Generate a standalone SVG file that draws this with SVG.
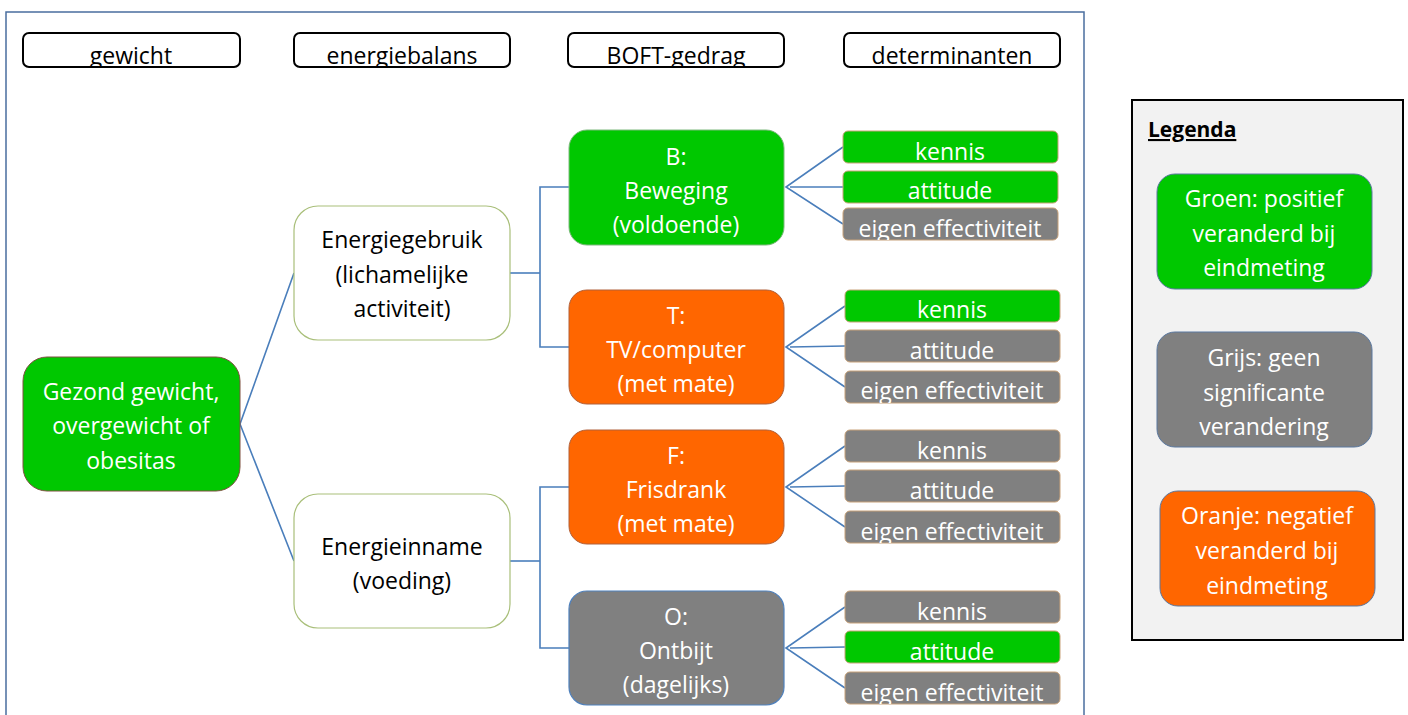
<svg xmlns="http://www.w3.org/2000/svg" width="1408" height="715" viewBox="0 0 1408 715">
<style>
text{font-family:"Open Sans","Noto Sans",sans-serif;font-size:23px;text-anchor:middle}
.w{fill:#ffffff}
.k{fill:#000000}
.hdr{fill:#ffffff;stroke:#000000;stroke-width:2}
.green{fill:#00C800}
.orange{fill:#FF6600}
.gray{fill:#808080}
.det{stroke:#C8A27A;stroke-width:1}
.big{stroke:#7F5040;stroke-width:1}
.en{fill:#ffffff;stroke:#A9BF7A;stroke-width:1.2}
.leg{stroke:#5A78A0;stroke-width:1}
.con{fill:none;stroke:#4A7EBB;stroke-width:1.6}
</style>
<defs>
<clipPath id="ch1"><rect x="23" y="33" width="217" height="33"/></clipPath>
<clipPath id="ch2"><rect x="294" y="33" width="216" height="33"/></clipPath>
<clipPath id="ch3"><rect x="568" y="33" width="216" height="33"/></clipPath>
<clipPath id="ch4"><rect x="844" y="33" width="216" height="33"/></clipPath>
</defs>
<rect width="1408" height="715" fill="#ffffff"/>
<rect id="frame" x="6" y="12" width="1078" height="720" fill="none" stroke="#4A6E9E" stroke-width="1.5"/>

<g id="headers">
<g id="h-gewicht"><rect class="hdr" x="23" y="33" width="217" height="34" rx="6"/><text class="k" x="131" y="64" clip-path="url(#ch1)">gewicht</text></g>
<g id="h-energiebalans"><rect class="hdr" x="294" y="33" width="216" height="34" rx="6"/><text class="k" x="402" y="64" clip-path="url(#ch2)">energiebalans</text></g>
<g id="h-boft"><rect class="hdr" x="568" y="33" width="216" height="34" rx="6"/><text class="k" x="676" y="64" clip-path="url(#ch3)">BOFT-gedrag</text></g>
<g id="h-determinanten"><rect class="hdr" x="844" y="33" width="216" height="34" rx="6"/><text class="k" x="952" y="64" clip-path="url(#ch4)">determinanten</text></g>
</g>

<g id="connectors">
<polyline class="con" points="294,273 240,424 294,561"/>
<polyline class="con" points="510,273 540,273"/>
<polyline class="con" points="569,187 540,187 540,347 569,347"/>
<polyline class="con" points="510,561 540,561"/>
<polyline class="con" points="569,487 540,487 540,648 569,648"/>
<polyline class="con" points="843,147 786,187 843,224"/>
<line class="con" x1="790" y1="187" x2="843" y2="187"/>
<polyline class="con" points="845,306 786,347 845,387"/>
<line class="con" x1="790" y1="347" x2="845" y2="346"/>
<polyline class="con" points="845,446 786,487 845,527"/>
<line class="con" x1="790" y1="487" x2="845" y2="486"/>
<polyline class="con" points="845,607 786,648 845,688"/>
<line class="con" x1="790" y1="648" x2="845" y2="647"/>
</g>

<g id="node-gewicht">
<rect class="green big" x="23" y="357" width="217" height="134" rx="24"/>
<text class="w" x="131" y="400">Gezond gewicht,</text>
<text class="w" x="131" y="434">overgewicht of</text>
<text class="w" x="131" y="469">obesitas</text>
</g>

<g id="node-energiegebruik">
<rect class="en" x="294" y="206" width="216" height="134" rx="24"/>
<text class="k" x="402" y="248">Energiegebruik</text>
<text class="k" x="402" y="283">(lichamelijke</text>
<text class="k" x="402" y="317">activiteit)</text>
</g>

<g id="node-energieinname">
<rect class="en" x="294" y="494" width="216" height="134" rx="24"/>
<text class="k" x="402" y="555">Energieinname</text>
<text class="k" x="402" y="589">(voeding)</text>
</g>

<g id="node-B">
<rect class="green" x="569" y="130" width="215" height="115" rx="18" stroke="#7CB87C" stroke-width="1"/>
<text class="w" x="676" y="165">B:</text>
<text class="w" x="676" y="199">Beweging</text>
<text class="w" x="676" y="233">(voldoende)</text>
</g>

<g id="node-T">
<rect class="orange" x="569" y="290" width="215" height="114" rx="18" stroke="#B0603A" stroke-width="1"/>
<text class="w" x="676" y="324">T:</text>
<text class="w" x="676" y="358">TV/computer</text>
<text class="w" x="676" y="392">(met mate)</text>
</g>

<g id="node-F">
<rect class="orange" x="569" y="430" width="215" height="114" rx="18" stroke="#B0603A" stroke-width="1"/>
<text class="w" x="676" y="464">F:</text>
<text class="w" x="676" y="498">Frisdrank</text>
<text class="w" x="676" y="532">(met mate)</text>
</g>

<g id="node-O">
<rect class="gray" x="569" y="591" width="215" height="114" rx="18" stroke="#4F81BD" stroke-width="1.2"/>
<text class="w" x="676" y="625">O:</text>
<text class="w" x="676" y="659">Ontbijt</text>
<text class="w" x="676" y="693">(dagelijks)</text>
</g>

<defs>
<clipPath id="cd1"><rect x="843" y="208" width="215" height="32"/></clipPath>
<clipPath id="cd2"><rect x="845" y="371" width="215" height="32"/></clipPath>
<clipPath id="cd3"><rect x="845" y="511" width="215" height="32"/></clipPath>
<clipPath id="cd4"><rect x="845" y="672" width="215" height="32"/></clipPath>
</defs>

<g id="det-B">
<g id="det-B-kennis"><rect class="green det" x="843" y="131" width="215" height="32" rx="5"/><text class="w" x="950" y="160">kennis</text></g>
<g id="det-B-attitude"><rect class="green det" x="843" y="171" width="215" height="32" rx="5"/><text class="w" x="950" y="199">attitude</text></g>
<g id="det-B-eigen"><rect class="gray det" x="843" y="208" width="215" height="32" rx="5"/><text class="w" x="950" y="237" clip-path="url(#cd1)">eigen effectiviteit</text></g>
</g>

<g id="det-T">
<g id="det-T-kennis"><rect class="green det" x="845" y="290" width="215" height="32" rx="5"/><text class="w" x="952" y="318">kennis</text></g>
<g id="det-T-attitude"><rect class="gray det" x="845" y="330" width="215" height="32" rx="5"/><text class="w" x="952" y="359">attitude</text></g>
<g id="det-T-eigen"><rect class="gray det" x="845" y="371" width="215" height="32" rx="5"/><text class="w" x="952" y="399" clip-path="url(#cd2)">eigen effectiviteit</text></g>
</g>

<g id="det-F">
<g id="det-F-kennis"><rect class="gray det" x="845" y="430" width="215" height="32" rx="5"/><text class="w" x="952" y="459">kennis</text></g>
<g id="det-F-attitude"><rect class="gray det" x="845" y="470" width="215" height="32" rx="5"/><text class="w" x="952" y="499">attitude</text></g>
<g id="det-F-eigen"><rect class="gray det" x="845" y="511" width="215" height="32" rx="5"/><text class="w" x="952" y="540" clip-path="url(#cd3)">eigen effectiviteit</text></g>
</g>

<g id="det-O">
<g id="det-O-kennis"><rect class="gray det" x="845" y="591" width="215" height="32" rx="5"/><text class="w" x="952" y="620">kennis</text></g>
<g id="det-O-attitude"><rect class="green det" x="845" y="631" width="215" height="32" rx="5"/><text class="w" x="952" y="660">attitude</text></g>
<g id="det-O-eigen"><rect class="gray det" x="845" y="672" width="215" height="32" rx="5"/><text class="w" x="952" y="701" clip-path="url(#cd4)">eigen effectiviteit</text></g>
</g>

<g id="legend">
<rect x="1132" y="100" width="271" height="540" fill="#F2F2F2" stroke="#000000" stroke-width="2"/>
<text class="k" x="1148" y="137" style="text-anchor:start;font-weight:bold;font-size:21px;text-decoration:underline">Legenda</text>
<g id="leg-groen">
<rect class="green leg" x="1157" y="174" width="215" height="115" rx="18"/>
<text class="w" x="1264" y="207">Groen: positief</text>
<text class="w" x="1264" y="242">veranderd bij</text>
<text class="w" x="1264" y="276">eindmeting</text>
</g>
<g id="leg-grijs">
<rect class="gray leg" x="1157" y="332" width="215" height="115" rx="18"/>
<text class="w" x="1264" y="366">Grijs: geen</text>
<text class="w" x="1264" y="401">significante</text>
<text class="w" x="1264" y="435">verandering</text>
</g>
<g id="leg-oranje">
<rect class="orange leg" x="1160" y="491" width="215" height="115" rx="18"/>
<text class="w" x="1267" y="524">Oranje: negatief</text>
<text class="w" x="1267" y="559">veranderd bij</text>
<text class="w" x="1267" y="594">eindmeting</text>
</g>
</g>
</svg>
